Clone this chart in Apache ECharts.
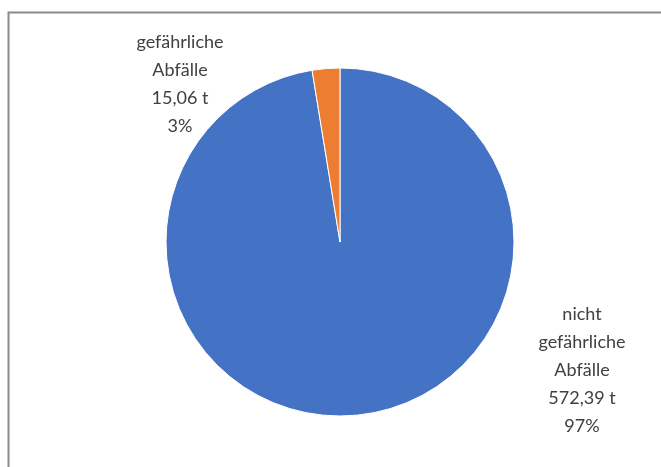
<!DOCTYPE html>
<html>
<head>
<meta charset="utf-8">
<script src="https://cdn.jsdelivr.net/npm/echarts@6/dist/echarts.min.js"></script>
<style>
  html, body { margin: 0; padding: 0; background: #fff; }
  #chart { width: 661px; height: 467px; }
</style>
</head>
<body>
<div id="chart"></div>
<script>
// Abfallmengen
var categories = ['nicht\ngefährliche\nAbfälle', 'gefährliche\nAbfälle'];
var values = [572.39, 15.06];
var colors = ['#4472C4', '#ED7D31'];
// label anchor points (centre of each text block)
var labelPos = [[582, 370], [180, 84]];

var chart = echarts.init(document.getElementById('chart'));

chart.setOption({
  animation: false,
  graphic: [{
    type: 'rect',
    shape: { x: 8.5, y: 12.5, width: 700, height: 500 },
    style: { fill: 'none', stroke: '#8a8a8a', lineWidth: 2 },
    silent: true
  }],
  series: [{
    type: 'pie',
    center: [340, 242],
    radius: 174,
    startAngle: 90,
    clockwise: true,
    percentPrecision: 0,
    data: categories.map(function (c, i) {
      return { name: c, value: values[i], itemStyle: { color: colors[i] } };
    }),
    itemStyle: { borderColor: '#fff', borderWidth: 1 },
    label: {
      show: true,
      position: 'outside',
      color: '#404040',
      fontFamily: 'Lato',
      fontSize: 18,
      lineHeight: 28,
      align: 'center',
      formatter: function (p) {
        return p.name + '\n' + p.value.toFixed(2).replace('.', ',') + ' t\n' + Math.round(p.percent) + '%';
      }
    },
    labelLine: { show: false },
    labelLayout: function (params) {
      var pos = labelPos[params.dataIndex];
      return { x: pos[0], y: pos[1], align: 'center', verticalAlign: 'middle' };
    },
    emphasis: { disabled: true }
  }]
});
</script>
</body>
</html>
